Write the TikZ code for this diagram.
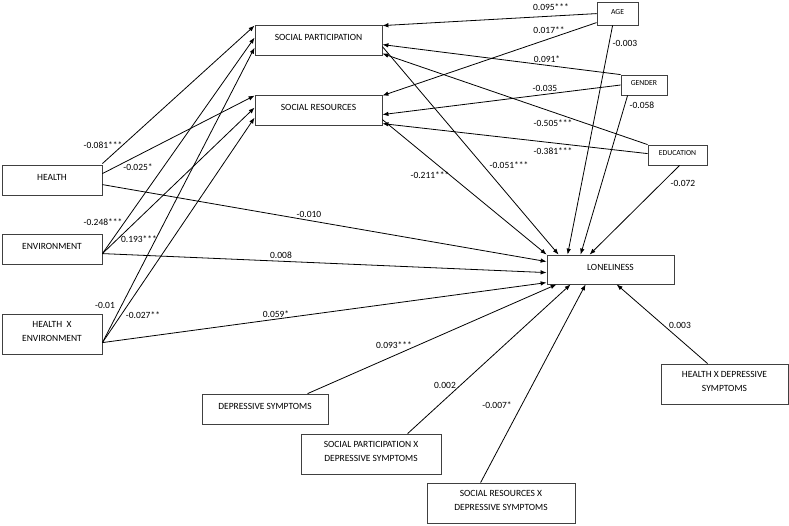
\documentclass[tikz,border=0pt]{standalone}
\usepackage{fontspec}
\setmainfont{Carlito}
\usetikzlibrary{arrows.meta,calc}
\begin{document}
\begin{tikzpicture}[x=1pt,y=-1pt,
 box/.style={draw=black!75,line width=0.8pt,fill=white,inner sep=0pt,align=center,text depth=5pt,font=\fontsize{9.5}{14}\selectfont},
 sbox/.style={box,text depth=3pt,font=\fontsize{7.7}{9}\selectfont},
 arr/.style={-{Latex[length=6pt,width=4.5pt]},line width=0.8pt},
 lab/.style={inner sep=0pt,font=\fontsize{9.5}{11}\selectfont}]
\useasboundingbox (0,0) rectangle (789,526);
% boxes
\node[box,minimum width=127pt,minimum height=30pt] (sp) at (318.5,40) {SOCIAL PARTICIPATION};
\node[box,minimum width=127pt,minimum height=30pt] (sr) at (318.5,110) {SOCIAL RESOURCES};
\node[sbox,minimum width=41pt,minimum height=23pt] (age) at (617.5,13.5) {AGE};
\node[sbox,minimum width=46pt,minimum height=20pt] (gender) at (644,85) {GENDER};
\node[sbox,minimum width=59pt,minimum height=20pt] (edu) at (677.5,155) {EDUCATION};
\node[box,minimum width=100pt,minimum height=30pt] (health) at (52,180) {HEALTH};
\node[box,minimum width=100pt,minimum height=30pt] (env) at (52,249) {ENVIRONMENT};
\node[box,minimum width=100pt,minimum height=40pt] (hxe) at (52,334) {HEALTH\ \ X\\ENVIRONMENT};
\node[box,minimum width=127pt,minimum height=29pt] (lon) at (610.5,269.5) {LONELINESS};
\node[box,minimum width=127pt,minimum height=40pt] (hxds) at (724.5,384) {HEALTH X DEPRESSIVE\\SYMPTOMS};
\node[box,minimum width=126pt,minimum height=30pt] (ds) at (265,409) {DEPRESSIVE SYMPTOMS};
\node[box,minimum width=140pt,minimum height=40pt] (spxds) at (371,454) {SOCIAL PARTICIPATION X\\DEPRESSIVE SYMPTOMS};
\node[box,minimum width=148pt,minimum height=40pt] (srxds) at (501,503) {SOCIAL RESOURCES X\\DEPRESSIVE SYMPTOMS};
% coordinates of shared start points
\coordinate (envo) at ($(env.north east)+(0,20)$);
\coordinate (hxeo) at ($(hxe.north east)+(0,29)$);
% arrows to social participation / resources from left
\draw[arr] ($(health.north east)+(0,-1)$) -- ($(sp.north west)+(0,1)$);
\draw[arr] ($(health.north east)+(0,9)$) -- ($(sr.north west)+(0,1)$);
\draw[arr] (envo) -- ($(sp.north west)+(0,13)$);
\draw[arr] (envo) -- ($(sr.north west)+(0,13)$);
\draw[arr] (hxeo) -- ($(sp.north west)+(0,23)$);
\draw[arr] (hxeo) -- ($(sr.north west)+(0,23)$);
% arrows from controls to SP / SR
\draw[arr] ($(age.north west)+(0,12)$) -- ($(sp.north east)+(0,1)$);
\draw[arr] ($(age.north west)+(0,21)$) -- ($(sr.north east)+(0,1)$);
\draw[arr] (gender.north west) -- ($(sp.north east)+(0,20)$);
\draw[arr] (gender.west) -- ($(sr.north east)+(0,20)$);
\draw[arr] (edu.north west) -- ($(sp.north east)+(0,29)$);
\draw[arr] ($(edu.north west)+(0,9)$) -- ($(sr.north east)+(0,29)$);
% arrows to loneliness
\draw[arr] ($(health.north east)+(0,20)$) -- ($(lon.north west)+(0,7)$);
\draw[arr] (envo) -- ($(lon.north west)+(0,18)$);
\draw[arr] (hxeo) -- ($(lon.north west)+(0,28)$);
\draw[arr] ($(sr.north east)+(0,25)$) -- (lon.north west);
\draw[arr] ($(sp.north east)+(0,22)$) -- ($(lon.north west)+(12,0)$);
\draw[arr] ($(age.south west)+(16,0)$) -- ($(lon.north west)+(21,0)$);
\draw[arr] ($(gender.south west)+(7,0)$) -- ($(lon.north west)+(34,0)$);
\draw[arr] ($(edu.south west)+(32,0)$) -- ($(lon.north west)+(43,0)$);
\draw[arr] ($(ds.north west)+(106,0)$) -- ($(lon.south west)+(10,0)$);
\draw[arr] ($(spxds.north west)+(107,0)$) -- ($(lon.south west)+(24,0)$);
\draw[arr] ($(srxds.north west)+(54,0)$) -- ($(lon.south west)+(39,0)$);
\draw[arr] ($(hxds.north west)+(47,0)$) -- ($(lon.south west)+(70,0)$);
% labels
\node[lab] (l1) at (551,7) {0.095***};
\node[lab] (l2) at (549,30) {0.017**};
\node[lab] (l3) at (547,59) {0.091*};
\node[lab] (l4) at (545,88) {-0.035};
\node[lab] (l5) at (553,123) {-0.505***};
\node[lab] (l6) at (553,151) {-0.381***};
\node[lab] (l7) at (625,43) {-0.003};
\node[lab] (l8) at (642,105) {-0.058};
\node[lab] (l9) at (683,183) {-0.072};
\node[lab] (l10) at (103,145) {-0.081***};
\node[lab] (l11) at (138,167) {-0.025*};
\node[lab] (l12) at (103,222) {-0.248***};
\node[lab] (l13) at (139,239) {0.193***};
\node[lab] (l14) at (105,305) {-0.01};
\node[lab] (l15) at (143,315) {-0.027**};
\node[lab] (l16) at (430,175) {-0.211***};
\node[lab] (l17) at (509,165) {-0.051***};
\node[lab] (l18) at (309,214) {-0.010};
\node[lab] (l19) at (281,255) {0.008};
\node[lab] (l20) at (276,314) {0.059*};
\node[lab] (l21) at (394,345) {0.093***};
\node[lab] (l22) at (445,385) {0.002};
\node[lab] (l23) at (497,405) {-0.007*};
\node[lab] (l24) at (680,325) {0.003};
\end{tikzpicture}
\end{document}
